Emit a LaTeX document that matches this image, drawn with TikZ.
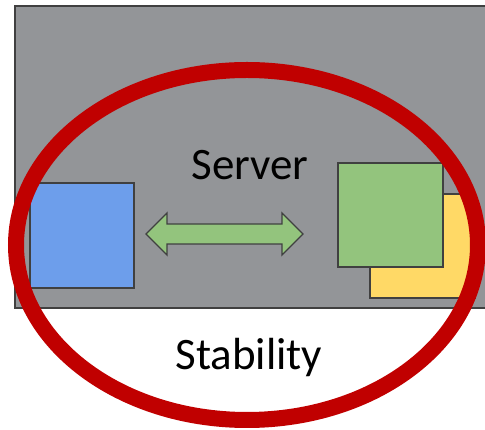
\documentclass[tikz,border=0pt]{standalone}
\usepackage{fontspec}
\setmainfont{Carlito}
\definecolor{panelgray}{HTML}{939598}
\definecolor{edgegray}{HTML}{404040}
\definecolor{boxblue}{HTML}{6D9EEB}
\definecolor{boxgreen}{HTML}{93C47D}
\definecolor{boxyellow}{HTML}{FFD966}
\definecolor{ringred}{HTML}{C00000}
\begin{document}
\begin{tikzpicture}[x=1pt,y=1pt,
  box/.style={draw=edgegray,line width=1.6pt,inner sep=0pt},
  label/.style={font=\fontsize{45}{50}\selectfont,inner sep=0pt,anchor=base}]
\useasboundingbox (0,0) rectangle (485,430);
% server panel (runs past the right edge)
\begin{scope}
\clip (0,0) rectangle (485,430);
\node[box,fill=panelgray,line width=2pt,minimum width=478pt,minimum height=302pt,anchor=north west] (panel) at (14,425) {};
\end{scope}
% components
\node[box,fill=boxblue,minimum width=104pt,minimum height=105pt,anchor=north west] (client) at (29,248) {};
\node[box,fill=boxyellow,minimum width=105pt,minimum height=104pt,anchor=north west] (back) at (369,237) {};
\node[box,fill=boxgreen,minimum width=105pt,minimum height=104pt,anchor=north west] (front) at (337,268) {};
% two-way link
\draw[draw=edgegray,line width=1.4pt,fill=boxgreen,line join=miter]
  (146,196) -- (167,217) -- (167,206) -- (282,206) -- (282,217) -- (303,196)
  -- (282,175) -- (282,186) -- (167,186) -- (167,175) -- cycle;
% labels
\node[label] (server) at (250,250) {Server};
\node[label] (stab) at (249,60) {Stability};
% stability ring
\begin{scope}
\clip (0,0) rectangle (485,430);
\draw[ringred,line width=16pt] (247,185) ellipse [x radius=231, y radius=175];
\end{scope}
\end{tikzpicture}
\end{document}
